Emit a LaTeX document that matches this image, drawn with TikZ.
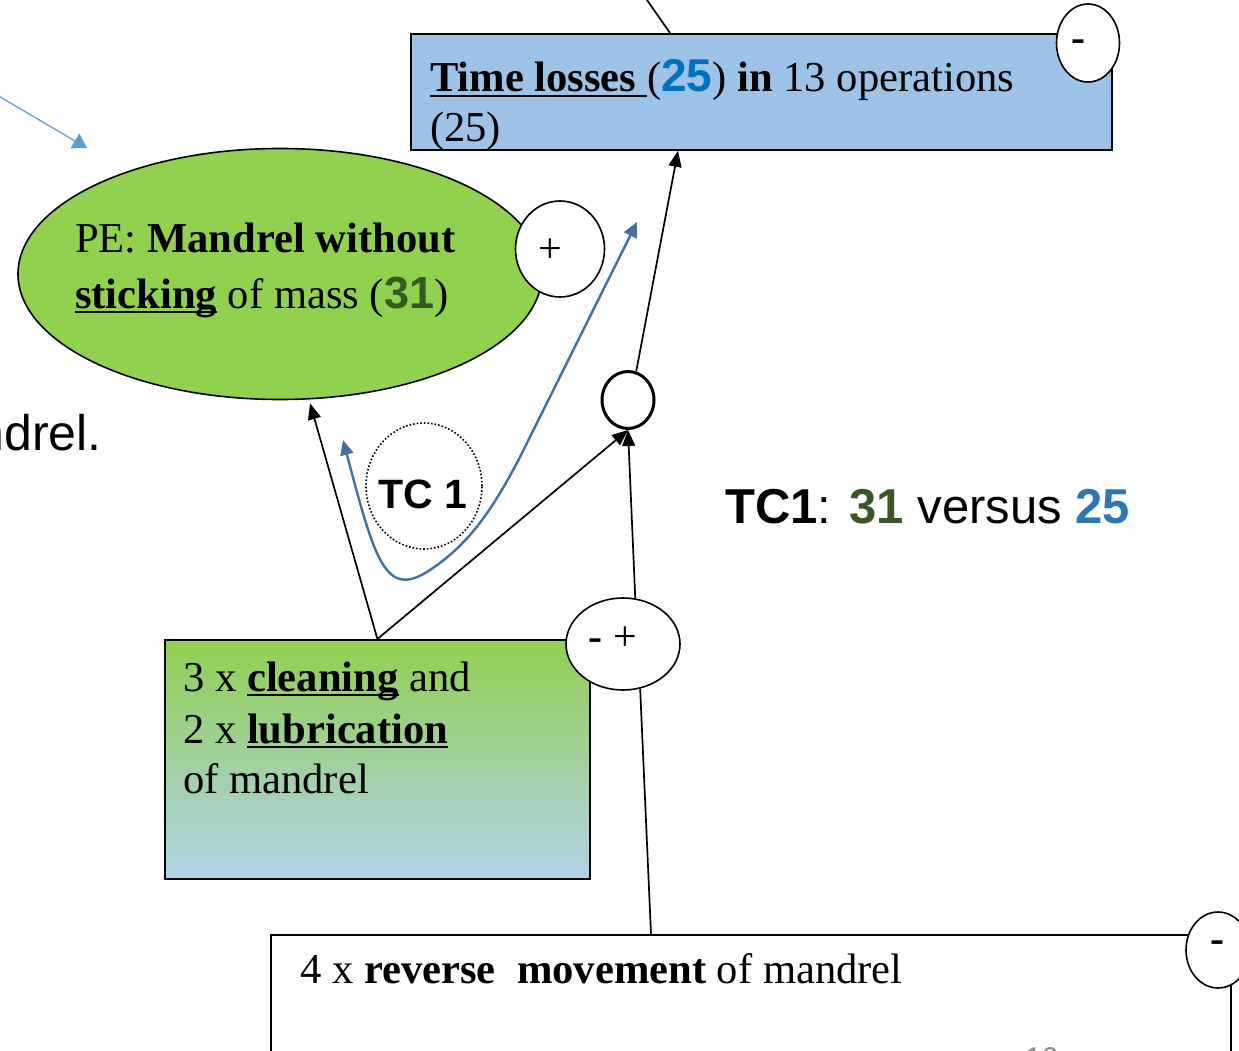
\documentclass[tikz,border=0pt]{standalone}
\usepackage{fontspec}
\setmainfont{Liberation Serif}
\setsansfont{Liberation Sans}
\usetikzlibrary{arrows.meta,shapes.geometric}

\definecolor{boxblue}{HTML}{9DC3E6}
\definecolor{pegreen}{HTML}{92D050}
\definecolor{paleblue}{HTML}{B0D2E9}
\definecolor{numgreen}{HTML}{385723}
\definecolor{numblue}{HTML}{0070C0}
\definecolor{tcblue}{HTML}{2E75B6}
\definecolor{curveblue}{HTML}{41719C}
\definecolor{hintblue}{HTML}{5B9BD5}
\definecolor{pagegray}{HTML}{8C8C8C}

% underline drawn just under the baseline, through the descenders
\newcommand\ulword[1]{{\setbox0=\hbox{#1}\rlap{\rule[-0.12em]{\wd0}{0.06em}}\box0}}

\begin{document}
\begin{tikzpicture}[x=1pt,y=-1pt,
  txt/.style={font=\fontsize{42.6}{50}\selectfont, inner sep=0, anchor=base west},
  sgn/.style={font=\fontsize{42}{50}\selectfont, inner sep=0, anchor=base},
  frame/.style={draw, line width=1.8pt, inner sep=0},
  bubble/.style={ellipse, draw, line width=1.6pt, fill=white, inner sep=0},
  conn/.style={line width=1.7pt, -{Triangle[length=16pt,width=13pt]}},
  plainline/.style={line width=1.7pt},
  curve/.style={line width=2.4pt, draw=curveblue,
    {Triangle[length=15pt,width=13pt]}-{Triangle[length=15pt,width=14pt]}},
  hint/.style={line width=1.2pt, draw=hintblue, -{Triangle[length=14pt,width=17pt]}}]

\useasboundingbox (0,0) rectangle (1239,1051);
\fill[white] (0,0) rectangle (1239,1051);

% ---- boxes and ellipses ----
\node (loss) [frame, fill=boxblue, anchor=north west, minimum width=701pt, minimum height=116pt] at (410,33) {};
\node (pe) [ellipse, draw, line width=1.6pt, fill=pegreen, minimum width=524pt, minimum height=251pt, inner sep=0] at (280,274) {};
\node (clean) [frame, top color=pegreen, bottom color=paleblue, anchor=north west, minimum width=425pt, minimum height=239pt] at (164,639) {};
\node (rev) [frame, fill=white, anchor=north west, minimum width=960pt, minimum height=160pt] at (270,934) {};
\node (tc) [ellipse, draw, dotted, line width=1.6pt, minimum width=116pt, minimum height=126pt, inner sep=0] at (424,486) {};
\node (dot) [ellipse, draw, line width=3pt, fill=white, minimum width=52pt, minimum height=57pt, inner sep=0] at (628,400) {};

% ---- sign bubbles ----
\node (plus) [bubble, minimum width=89pt, minimum height=96pt] at (560,249) {};
\node (lossSign) [bubble, minimum width=63pt, minimum height=78pt] at (1088,43) {};
\node (pm) [bubble, minimum width=114pt, minimum height=92pt] at (623,644) {};
\node (revSign) [bubble, minimum width=64pt, minimum height=76pt] at (1218,950) {};

\node (plusTxt) [sgn] at (550,262) {+};
\node (lossSignTxt) [sgn] at (1078,52) {\textbf{-}};
\node (pmTxt) [sgn] at (613,650) {\textbf{-} +};
\node (revSignTxt) [sgn] at (1217,952) {\textbf{-}};

% ---- texts ----
\node (lossL1) [txt] at (430,92) {\ulword{\textbf{Time losses\ }}({\sffamily\bfseries\color{numblue}\fontsize{46}{46}\selectfont 25}) \textbf{in} 13 operations};
\node (lossL2) [txt] at (430,142) {(25)};

\node (peL1) [txt] at (75,252) {PE: \textbf{Mandrel without}};
\node (peL2) [txt] at (75,308) {\ulword{\textbf{sticking}} of mass ({\sffamily\bfseries\color{numgreen}\fontsize{45}{45}\selectfont 31})};

\node (cleanL1) [txt] at (183,691) {3 x \ulword{\textbf{cleaning}} and};
\node (cleanL2) [txt] at (183,743) {2 x \ulword{\textbf{lubrication}}};
\node (cleanL3) [txt] at (183,793) {of mandrel};

\node (revL1) [txt] at (300,983) {4 x \textbf{reverse}\ \ \textbf{movement} of mandrel};

\node (tcTxt) [inner sep=0, anchor=base, font=\sffamily\bfseries\fontsize{41}{41}\selectfont] at (423,508) {TC 1};

\node (verdict) [inner sep=0, anchor=base west, font=\sffamily\fontsize{49}{49}\selectfont] at (725,523)
  {\textbf{TC1}: {\bfseries\color{numgreen}31} versus {\bfseries\color{tcblue}25}};

\node (sideTxt) [inner sep=0, anchor=base east, font=\sffamily\fontsize{50}{50}\selectfont] at (102,450) {ndrel.};

\node (pageNo) [inner sep=0, anchor=base west, text=pagegray, font=\sffamily\fontsize{30}{30}\selectfont] at (1025,1068) {10};

% ---- connectors ----
\coordinate (topIn) at (640,-10);
\draw[plainline] (topIn) -- ([xshift=260pt]loss.north west);

\draw[conn] (dot.74) -- ([xshift=268pt]loss.south west);
\draw[conn, shorten >=4pt] (clean.north) -- (pe.-77);
\draw[conn] (clean.north) -- (dot.south);
\draw[conn] (pm.75) -- (dot.south);
\draw[plainline] ([xshift=381pt]rev.north west) -- (pm.-69);

\coordinate (curveL) at (343,440);
\coordinate (curveR) at (637,222);
\draw[curve] (curveL) .. controls (375,560) and (385,600) .. (430,570)
  .. controls (466,546) and (490,515) .. (520,457) -- (curveR);

\coordinate (hintStart) at (-10,91);
\coordinate (hintEnd) at (87,148);
\draw[hint] (hintStart) -- (hintEnd);

\end{tikzpicture}
\end{document}
